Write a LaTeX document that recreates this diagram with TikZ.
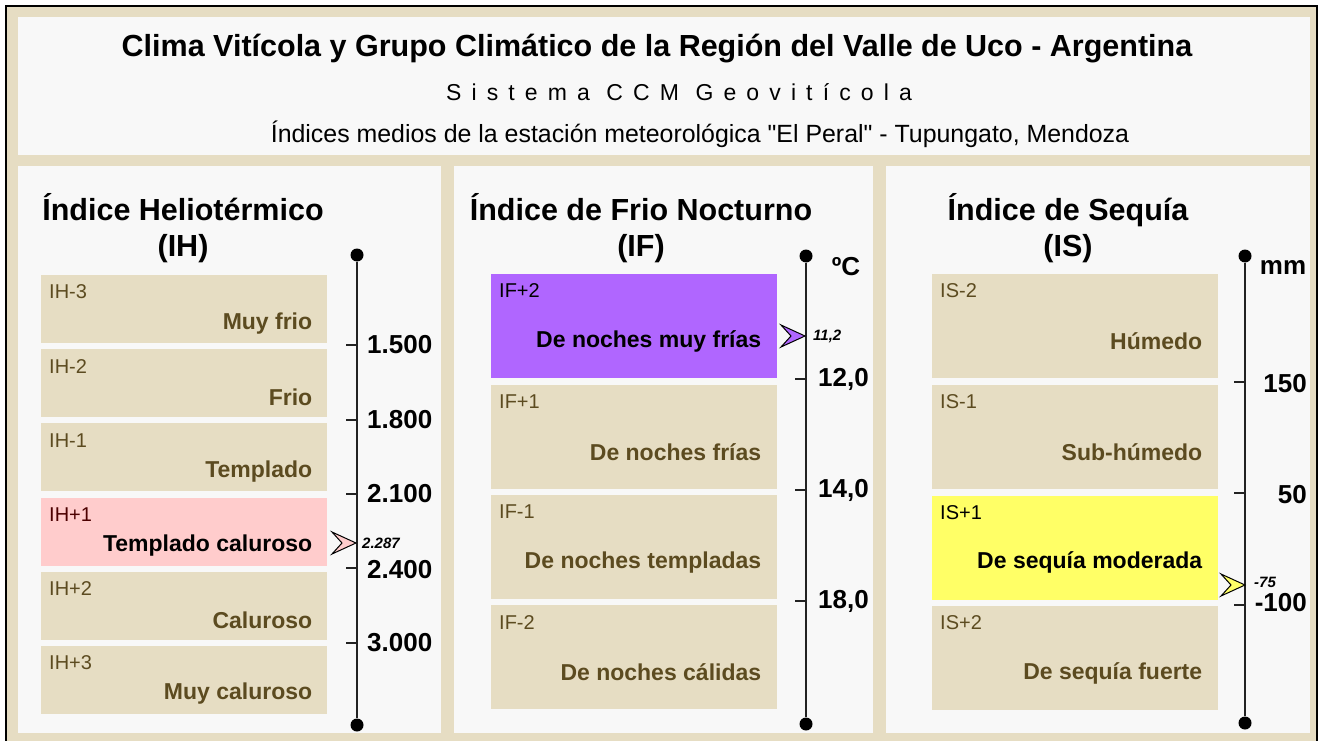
\documentclass[tikz,border=0pt]{standalone}
\usepackage{fontspec}
\setmainfont{Liberation Sans}
\newfontfamily\rawfont{Liberation Sans}[Ligatures=ResetAll]
\usepackage{tikz}
\usetikzlibrary{positioning, calc}
\definecolor{frame}{HTML}{E6DDC3}
\definecolor{panel}{HTML}{F8F8F8}
\definecolor{bandfill}{HTML}{E6DDC3}
\definecolor{bandtext}{HTML}{5C4B20}
\definecolor{hot}{HTML}{FFCCCC}
\definecolor{cold}{HTML}{B066FF}
\definecolor{dry}{HTML}{FFFF66}
\definecolor{axisgray}{HTML}{222222}
\tikzset{
  band/.style     = {rectangle, fill=bandfill, minimum width=286pt,
                     inner sep=0pt, anchor=north west},
  bandid/.style   = {anchor=west, inner sep=0pt, text=bandtext,
                     font=\fontsize{20}{20}\selectfont},
  bandname/.style = {anchor=east, inner sep=0pt, text=bandtext,
                     font=\fontsize{23}{23}\selectfont\bfseries},
  headline/.style = {align=center, font=\fontsize{30.5}{36}\selectfont\bfseries},
  axisdot/.style  = {circle, fill=black, inner sep=0pt, minimum size=13pt},
  axis/.style     = {draw=axisgray, line width=2pt},
  tick/.style     = {draw=axisgray, line width=1.5pt},
  scalelab/.style = {anchor=west, inner sep=0pt, font=\fontsize{26}{26}\selectfont\bfseries},
  marklab/.style  = {anchor=west, inner sep=0pt, font=\fontsize{15}{15}\selectfont\bfseries\itshape},
  dart/.style     = {draw=black, line width=1pt, line join=miter},
}

\begin{document}
\begin{tikzpicture}[x=1pt, y=-1pt]
  \useasboundingbox (0,0) rectangle (1320,741);

  % ----- frame and panels -----
  \draw[fill=frame, line width=1.5pt] (6,6) rectangle (1317,750);
  \fill[panel] (18,17) rectangle (1310,155);
  \fill[panel] (18,166) rectangle (441,733);
  \fill[panel] (454,166) rectangle (873,733);
  \fill[panel] (886,166) rectangle (1310,733);

  % ----- header -----
  \node[font=\fontsize{30.5}{30}\selectfont\bfseries] (title) at (657,49)
       {Clima Vitícola y Grupo Climático de la Región del Valle de Uco - Argentina};
  \node[font=\fontsize{23}{23}\selectfont\addfontfeatures{LetterSpace=44}] (system) at (679,92)
       {Sistema CCM Geovitícola};
  \node[font=\fontsize{24.9}{24}\selectfont\rawfont] (source) at (700,134)
       {Índices medios de la estación meteorológica "El Peral" - Tupungato, Mendoza};

  % ----- LEFT: Indice Heliotermico -----
  \node[headline] (ihhead) at (183,228) {Índice Heliotérmico\\(IH)};

  \node[band, minimum height=68pt] (ih3) at (41,275) {};
  \node[band, minimum height=68pt, below=5.7pt of ih3] (ih2) {};
  \node[band, minimum height=68pt, below=5.7pt of ih2] (ih1) {};
  \node[band, minimum height=68pt, below=5.7pt of ih1, fill=hot] (ihp1) {};
  \node[band, minimum height=68pt, below=5.7pt of ihp1] (ihp2) {};
  \node[band, minimum height=68pt, below=5.7pt of ihp2] (ihp3) {};

  \node[bandid] (ih3id) at ([shift={(8pt,-17pt)}]ih3.north west) {IH-3};
  \node[bandname] (ih3name) at ([shift={(-15pt,20pt)}]ih3.south east) {Muy frio};
  \node[bandid] (ih2id) at ([shift={(8pt,-17pt)}]ih2.north west) {IH-2};
  \node[bandname] (ih2name) at ([shift={(-15pt,20pt)}]ih2.south east) {Frio};
  \node[bandid] (ih1id) at ([shift={(8pt,-17pt)}]ih1.north west) {IH-1};
  \node[bandname] (ih1name) at ([shift={(-15pt,20pt)}]ih1.south east) {Templado};
  \node[bandid, text=black!70!red] (ihp1id) at ([shift={(8pt,-17pt)}]ihp1.north west) {IH+1};
  \node[bandname, text=black] (ihp1name) at ([shift={(-15pt,20pt)}]ihp1.south east) {Templado caluroso};
  \node[bandid] (ihp2id) at ([shift={(8pt,-17pt)}]ihp2.north west) {IH+2};
  \node[bandname] (ihp2name) at ([shift={(-15pt,20pt)}]ihp2.south east) {Caluroso};
  \node[bandid] (ihp3id) at ([shift={(8pt,-17pt)}]ihp3.north west) {IH+3};
  \node[bandname] (ihp3name) at ([shift={(-15pt,20pt)}]ihp3.south east) {Muy caluroso};

  \node[axisdot] (ihtop) at (357,255) {};
  \node[axisdot] (ihbot) at (357,725) {};
  \draw[axis] (ihtop) -- (ihbot);

  \coordinate (iht1) at (357,345);
  \coordinate (iht2) at (357,420);
  \coordinate (iht3) at (357,494);
  \coordinate (iht4) at (357,568);
  \coordinate (iht5) at (357,643);
  \draw[tick] (iht1) -- ++(-11pt,0pt);
  \draw[tick] (iht2) -- ++(-11pt,0pt);
  \draw[tick] (iht3) -- ++(-11pt,0pt);
  \draw[tick] (iht4) -- ++(-11pt,0pt);
  \draw[tick] (iht5) -- ++(-11pt,0pt);
  \node[scalelab, right=10pt of iht1] (ihl1) {1.500};
  \node[scalelab, right=10pt of iht2] (ihl2) {1.800};
  \node[scalelab, right=10pt of iht3] (ihl3) {2.100};
  \node[scalelab, right=10pt of iht4, yshift=-2pt] (ihl4) {2.400};
  \node[scalelab, right=10pt of iht5] (ihl5) {3.000};

  \coordinate (ihmark) at (356,543);
  \draw[dart, fill=hot] (ihmark) -- ++(-24pt,-11pt) -- ++(10pt,11pt) -- ++(-10pt,11pt) -- cycle;
  \node[marklab, right=6pt of ihmark] (ihval) {2.287};

  % ----- MIDDLE: Indice de Frio Nocturno -----
  \node[headline] (ifhead) at (641,228) {Índice de Frio Nocturno\\(IF)};

  \node[band, minimum height=104pt, fill=cold] (ifp2) at (491,274) {};
  \node[band, minimum height=104pt, below=6pt of ifp2] (ifp1) {};
  \node[band, minimum height=104pt, below=6pt of ifp1] (if1) {};
  \node[band, minimum height=104pt, below=6pt of if1] (if2) {};

  \node[bandid, text=black] (ifp2id) at ([shift={(8pt,-17pt)}]ifp2.north west) {IF+2};
  \node[bandname, text=black] (ifp2name) at ([shift={(-16pt,37pt)}]ifp2.south east) {De noches muy frías};
  \node[bandid] (ifp1id) at ([shift={(8pt,-17pt)}]ifp1.north west) {IF+1};
  \node[bandname] (ifp1name) at ([shift={(-16pt,37pt)}]ifp1.south east) {De noches frías};
  \node[bandid] (if1id) at ([shift={(8pt,-17pt)}]if1.north west) {IF-1};
  \node[bandname] (if1name) at ([shift={(-16pt,37pt)}]if1.south east) {De noches templadas};
  \node[bandid] (if2id) at ([shift={(8pt,-17pt)}]if2.north west) {IF-2};
  \node[bandname] (if2name) at ([shift={(-16pt,37pt)}]if2.south east) {De noches cálidas};

  \node[axisdot] (iftop) at (806,256) {};
  \node[axisdot] (ifbot) at (806,724) {};
  \draw[axis] (iftop) -- (ifbot);
  \node[scalelab, anchor=center] (ifunit) at (846,267) {ºC};

  \coordinate (ift1) at (806,379);
  \coordinate (ift2) at (806,490);
  \coordinate (ift3) at (806,601);
  \draw[tick] (ift1) -- ++(-11pt,0pt);
  \draw[tick] (ift2) -- ++(-11pt,0pt);
  \draw[tick] (ift3) -- ++(-11pt,0pt);
  \node[scalelab, right=12pt of ift1] (ifl1) {12,0};
  \node[scalelab, right=12pt of ift2] (ifl2) {14,0};
  \node[scalelab, right=12pt of ift3] (ifl3) {18,0};

  \coordinate (ifmark) at (805,336);
  \draw[dart, fill=cold] (ifmark) -- ++(-24pt,-11pt) -- ++(10pt,11pt) -- ++(-10pt,11pt) -- cycle;
  \node[marklab, right=8pt of ifmark] (ifval) {11,2};

  % ----- RIGHT: Indice de Sequia -----
  \node[headline] (ishead) at (1068,228) {Índice de Sequía\\(IS)};

  \node[band, minimum height=104pt] (is2) at (932,274) {};
  \node[band, minimum height=104pt, below=6.3pt of is2] (is1) {};
  \node[band, minimum height=104pt, below=6.3pt of is1, fill=dry] (isp1) {};
  \node[band, minimum height=104pt, below=6.3pt of isp1] (isp2) {};

  \node[bandid] (is2id) at ([shift={(8pt,-17pt)}]is2.north west) {IS-2};
  \node[bandname] (is2name) at ([shift={(-16pt,37pt)}]is2.south east) {Húmedo};
  \node[bandid] (is1id) at ([shift={(8pt,-17pt)}]is1.north west) {IS-1};
  \node[bandname] (is1name) at ([shift={(-16pt,37pt)}]is1.south east) {Sub-húmedo};
  \node[bandid, text=black] (isp1id) at ([shift={(8pt,-17pt)}]isp1.north west) {IS+1};
  \node[bandname, text=black] (isp1name) at ([shift={(-16pt,37pt)}]isp1.south east) {De sequía moderada};
  \node[bandid] (isp2id) at ([shift={(8pt,-17pt)}]isp2.north west) {IS+2};
  \node[bandname] (isp2name) at ([shift={(-16pt,37pt)}]isp2.south east) {De sequía fuerte};

  \node[axisdot] (istop) at (1245,256) {};
  \node[axisdot] (isbot) at (1245,723) {};
  \draw[axis] (istop) -- (isbot);
  \node[scalelab, anchor=center] (isunit) at (1283,267) {mm};

  \coordinate (ist1) at (1245,382);
  \coordinate (ist2) at (1245,493);
  \coordinate (ist3) at (1245,605);
  \draw[tick] (ist1) -- ++(-11pt,0pt);
  \draw[tick] (ist2) -- ++(-11pt,0pt);
  \draw[tick] (ist3) -- ++(-11pt,0pt);
  \node[scalelab, anchor=east] (isl1) at (1307,384) {150};
  \node[scalelab, anchor=east] (isl2) at (1307,495) {50};
  \node[scalelab, anchor=east] (isl3) at (1307,603) {-100};

  \coordinate (ismark) at (1245,585);
  \draw[dart, fill=dry] (ismark) -- ++(-24pt,-11pt) -- ++(10pt,11pt) -- ++(-10pt,11pt) -- cycle;
  \node[marklab, right=9pt of ismark, yshift=3pt] (isval) {-75};

\end{tikzpicture}
\end{document}
